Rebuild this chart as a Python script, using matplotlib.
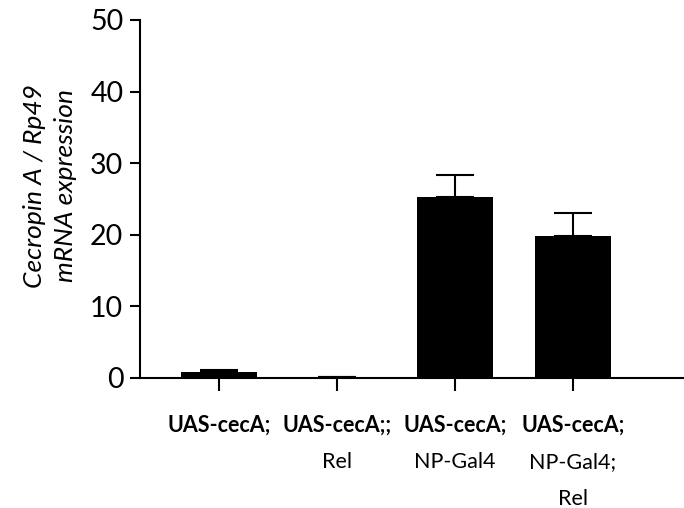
import matplotlib.pyplot as plt

# -----------------------------
# DATA
# -----------------------------
line1 = ["UAS-cecA;", "UAS-cecA;;", "UAS-cecA;", "UAS-cecA;"]
line2 = ["", "Rel", "NP-Gal4", "NP-Gal4;"]
line3 = ["", "", "", "Rel"]
means = [0.85, 0.1, 25.3, 19.8]
errs = [0.3, 0.05, 3.0, 3.2]

plt.rcParams['font.family'] = ['Lato', 'DejaVu Sans']

# -----------------------------
# FIGURE
# -----------------------------
fig = plt.figure(figsize=(6.84, 5.08), dpi=100)
ax = fig.add_axes([140/684, 1 - 378/508, 1 - 140/684, (378 - 20)/508])

x = range(len(means))
ax.bar(x, means, width=0.65, color='black', zorder=2)
ax.errorbar(x, means, yerr=[[0]*len(errs), errs], fmt='none',
            ecolor='black', elinewidth=1.5, capsize=13.5, capthick=1.5, zorder=1)

ax.set_xlim(-0.67, 3.94)
ax.set_ylim(0, 50)
ax.set_yticks([0, 10, 20, 30, 40, 50])

for s in ['top', 'right']:
    ax.spines[s].set_visible(False)
for s in ['left', 'bottom']:
    ax.spines[s].set_linewidth(1.5)

ax.tick_params(axis='y', direction='out', length=7, width=1.5, pad=5, labelsize=20.5)
ax.tick_params(axis='x', direction='out', length=9, width=1.5, labelbottom=False)
ax.set_xticks(list(x))

# category labels, first line bold
for i in x:
    ax.annotate(line1[i], xy=(i, 0), xycoords=('data', 'axes fraction'),
                xytext=(0, -39), textcoords='offset points',
                ha='center', va='baseline', fontsize=15.5, fontweight='bold')
    ax.annotate(line2[i], xy=(i, 0), xycoords=('data', 'axes fraction'),
                xytext=(0, -65), textcoords='offset points',
                ha='center', va='baseline', fontsize=15.5)
    ax.annotate(line3[i], xy=(i, 0), xycoords=('data', 'axes fraction'),
                xytext=(0, -91.5), textcoords='offset points',
                ha='center', va='baseline', fontsize=15.5)

fig.text(50/684, 1 - 186/508, "Cecropin A / Rp49\nmRNA expression",
         rotation=90, ha='center', va='center', fontsize=19,
         fontstyle='italic', linespacing=1.45)

fig.savefig("out.png", dpi=100)
